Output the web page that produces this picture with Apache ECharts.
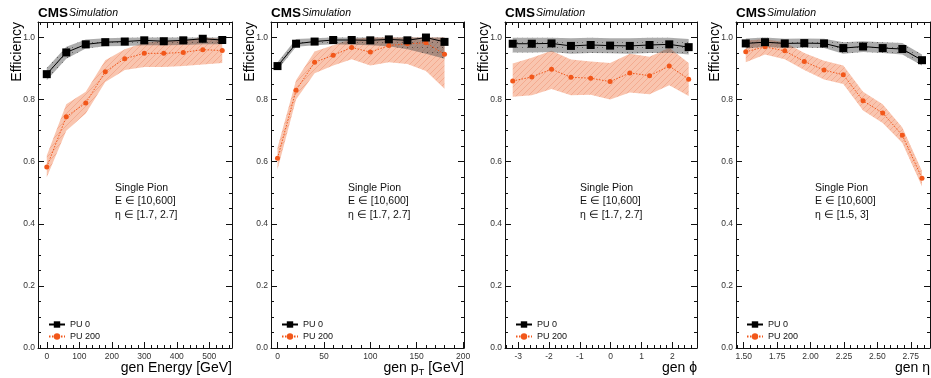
<!DOCTYPE html>
<html><head><meta charset="utf-8">
<script src="https://cdn.jsdelivr.net/npm/echarts@6/dist/echarts.min.js"></script>
<style>html,body{margin:0;padding:0;background:#fff}#c{width:931px;height:378px}</style>
</head><body><div id="c"></div>
<script>
// ---- data: panel 1 (gen Energy) ----
const eX = [0, 60, 120, 180, 240, 300, 360, 420, 480, 540];
const ePU0 = [0.882, 0.952, 0.978, 0.985, 0.987, 0.991, 0.988, 0.991, 0.996, 0.992];
const ePU0Lo = [0.862, 0.932, 0.965, 0.972, 0.973, 0.975, 0.975, 0.976, 0.978, 0.978];
const ePU0Hi = [0.902, 0.970, 0.994, 0.998, 0.999, 1.0, 1.0, 1.0, 1.0, 1.0];
const ePU200 = [0.583, 0.745, 0.789, 0.890, 0.932, 0.949, 0.949, 0.952, 0.961, 0.958];
const ePU200Lo = [0.55, 0.70, 0.755, 0.857, 0.895, 0.905, 0.905, 0.908, 0.913, 0.918];
const ePU200Hi = [0.62, 0.785, 0.825, 0.927, 0.962, 0.983, 0.99, 0.99, 1.0, 0.995];
// ---- panel 2 (gen pT) ----
const pX = [0, 20, 40, 60, 80, 100, 120, 140, 160, 180];
const pPU0 = [0.908, 0.980, 0.987, 0.992, 0.992, 0.991, 0.994, 0.991, 1.0, 0.986];
const pPU0Lo = [0.895, 0.970, 0.975, 0.978, 0.977, 0.975, 0.972, 0.962, 0.948, 0.932];
const pPU0Hi = [0.920, 0.995, 0.998, 1.0, 1.0, 1.0, 1.0, 1.0, 1.0, 1.0];
const pPU200 = [0.611, 0.830, 0.920, 0.943, 0.968, 0.953, 0.974, 0.980, 0.983, 0.946];
const pPU200Lo = [0.575, 0.80, 0.885, 0.91, 0.93, 0.91, 0.92, 0.915, 0.892, 0.835];
const pPU200Hi = [0.645, 0.862, 0.955, 0.975, 0.995, 1.0, 1.0, 1.0, 1.0, 1.0];
// ---- panel 3 (gen phi) ----
const fX = [-3.18, -2.56, -1.92, -1.29, -0.65, -0.02, 0.62, 1.26, 1.90, 2.53];
const fPU0 = [0.980, 0.980, 0.981, 0.973, 0.976, 0.974, 0.973, 0.976, 0.978, 0.969];
const fPU0Lo = [0.952, 0.952, 0.953, 0.948, 0.950, 0.949, 0.948, 0.950, 0.951, 0.945];
const fPU0Hi = [0.999, 0.999, 0.999, 0.998, 0.999, 0.998, 0.998, 0.999, 0.999, 0.995];
const fPU200 = [0.860, 0.873, 0.898, 0.872, 0.869, 0.858, 0.886, 0.877, 0.908, 0.866];
const fPU200Lo = [0.809, 0.814, 0.834, 0.814, 0.816, 0.800, 0.823, 0.817, 0.846, 0.812];
const fPU200Hi = [0.916, 0.935, 0.957, 0.929, 0.923, 0.918, 0.948, 0.938, 0.967, 0.918];
// ---- panel 4 (gen eta) ----
const hX = [1.515, 1.659, 1.807, 1.953, 2.101, 2.245, 2.393, 2.540, 2.687, 2.834];
const hPU0 = [0.981, 0.985, 0.981, 0.982, 0.981, 0.966, 0.971, 0.966, 0.963, 0.927];
const hPU0Lo = [0.965, 0.970, 0.966, 0.967, 0.966, 0.948, 0.953, 0.950, 0.945, 0.910];
const hPU0Hi = [0.997, 1.0, 0.996, 0.997, 0.996, 0.985, 0.988, 0.985, 0.982, 0.945];
const hPU200 = [0.954, 0.970, 0.957, 0.923, 0.895, 0.880, 0.796, 0.757, 0.685, 0.547];
const hPU200Lo = [0.92, 0.945, 0.93, 0.895, 0.865, 0.85, 0.765, 0.725, 0.66, 0.52];
const hPU200Hi = [0.99, 0.995, 0.985, 0.95, 0.925, 0.91, 0.825, 0.785, 0.71, 0.57];
// ---- tick labels ----
const yTicks = [0, 0.2, 0.4, 0.6, 0.8, 1.0];
const eTicks = [0, 100, 200, 300, 400, 500];
const pTicks = [0, 50, 100, 150, 200];
const fTicks = [-3, -2, -1, 0, 1, 2];
const hTicks = [1.5, 1.75, 2.0, 2.25, 2.5, 2.75];
const seriesNames = ['PU 0', 'PU 200'];
const xTitles = ['gen Energy [GeV]', 'gen p_T [GeV]', 'gen ϕ', 'gen η'];
const annot = [
  ['Single Pion', 'E ∈ [10,600]', 'η ∈ [1.7, 2.7]'],
  ['Single Pion', 'E ∈ [10,600]', 'η ∈ [1.7, 2.7]'],
  ['Single Pion', 'E ∈ [10,600]', 'η ∈ [1.7, 2.7]'],
  ['Single Pion', 'E ∈ [10,600]', 'η ∈ [1.5, 3]']
];

// ---- layout / style ----
const FONT = '"Liberation Sans", Arial, Helvetica, sans-serif';
const GTOP = 22, GH = 326;
const panels = [
  {left: 38, width: 194, min: -27, max: 570, ticks: eTicks, step: 20, fmt: v => String(v),
   x: eX, pu0: ePU0, pu0Lo: ePU0Lo, pu0Hi: ePU0Hi, pu200: ePU200, pu200Lo: ePU200Lo, pu200Hi: ePU200Hi, annX: 115},
  {left: 271, width: 193, min: -7, max: 201, ticks: pTicks, step: 10, fmt: v => String(v),
   x: pX, pu0: pPU0, pu0Lo: pPU0Lo, pu0Hi: pPU0Hi, pu200: pPU200, pu200Lo: pPU200Lo, pu200Hi: pPU200Hi, annX: 348},
  {left: 505, width: 192, min: -3.43, max: 2.80, ticks: fTicks, step: 0.2, fmt: v => String(v),
   x: fX, pu0: fPU0, pu0Lo: fPU0Lo, pu0Hi: fPU0Hi, pu200: fPU200, pu200Lo: fPU200Lo, pu200Hi: fPU200Hi, annX: 580},
  {left: 736, width: 194, min: 1.442, max: 2.894, ticks: hTicks, step: 0.05, fmt: v => v.toFixed(2),
   x: hX, pu0: hPU0, pu0Lo: hPU0Lo, pu0Hi: hPU0Hi, pu200: hPU200, pu200Lo: hPU200Lo, pu200Hi: hPU200Hi, annX: 815}
];

function minorTicks(min, max, step) {
  const out = [];
  const start = Math.ceil(min / step - 1e-9);
  for (let k = start; k * step <= max + 1e-9; k++) out.push(+(k * step).toFixed(6));
  return out;
}

function hatchPattern() {
  const c = document.createElement('canvas');
  c.width = 6; c.height = 6;
  const g = c.getContext('2d');
  g.fillStyle = 'rgba(249,192,168,0.92)';
  g.fillRect(0, 0, 6, 6);
  g.strokeStyle = 'rgba(240,150,118,0.55)';
  g.lineWidth = 1;
  g.beginPath();
  g.moveTo(-1, 7); g.lineTo(7, -1);
  g.moveTo(-1, 1); g.lineTo(1, -1);
  g.moveTo(5, 7); g.lineTo(7, 5);
  g.stroke();
  return c;
}
function dotPattern() {
  const c = document.createElement('canvas');
  c.width = 5; c.height = 5;
  const g = c.getContext('2d');
  g.fillStyle = 'rgba(70,70,70,0.45)';
  g.fillRect(0, 0, 5, 5);
  g.fillStyle = 'rgba(20,20,20,0.5)';
  g.fillRect(2, 2, 1, 1);
  return c;
}
const hatch = hatchPattern();
const dots = dotPattern();

function bandSeries(xi, yi, xs, lo, hi, pattern, z, name) {
  return {
    type: 'custom', name, xAxisIndex: xi, yAxisIndex: yi, silent: true, animation: false, z,
    data: xs.map((x, k) => [x, lo[k], hi[k]]),
    encode: {x: 0, y: [1, 2]},
    renderItem: (params, api) => {
      if (params.dataIndex !== 0) return null;
      const pts = [];
      for (let k = 0; k < xs.length; k++) pts.push(api.coord([xs[k], hi[k]]));
      for (let k = xs.length - 1; k >= 0; k--) pts.push(api.coord([xs[k], lo[k]]));
      return {type: 'polygon', shape: {points: pts}, style: {fill: {image: pattern, repeat: 'repeat'}}};
    }
  };
}

const grid = [], xAxis = [], yAxis = [], series = [], legend = [], graphic = [];
const lineC = '#111';
const labelStyle = {fontFamily: FONT, fontSize: 8.5, color: '#333'};
const yMinor = minorTicks(0, 1.05, 0.05);

panels.forEach((p, i) => {
  const gMain = {left: p.left, top: GTOP, width: p.width, height: GH, show: false, outerBoundsMode: 'none', containLabel: false};
  grid.push(Object.assign({}, gMain), Object.assign({}, gMain));
  const gi = 2 * i, gm = 2 * i + 1;
  const xMinor = minorTicks(p.min, p.max, p.step);
  const common = {type: 'value', min: p.min, max: p.max, splitLine: {show: false}};
  const ycommon = {type: 'value', min: 0, max: 1.05, splitLine: {show: false}};
  const axLine = {show: true, onZero: false, lineStyle: {color: lineC, width: 1}};
  const noLine = {show: false, onZero: false};
  xAxis.push(Object.assign({}, common, {gridIndex: gi, position: 'bottom', axisLine: axLine,
    axisTick: {show: true, inside: true, length: 6, customValues: p.ticks, lineStyle: {color: lineC}},
    axisLabel: Object.assign({show: true, customValues: p.ticks, margin: 4, formatter: p.fmt}, labelStyle)}));
  xAxis.push(Object.assign({}, common, {gridIndex: gi, position: 'top', axisLine: axLine,
    axisTick: {show: true, inside: true, length: 6, customValues: p.ticks, lineStyle: {color: lineC}},
    axisLabel: {show: false}}));
  xAxis.push(Object.assign({}, common, {gridIndex: gm, position: 'bottom', axisLine: noLine,
    axisTick: {show: true, inside: true, length: 3, customValues: xMinor, lineStyle: {color: lineC}},
    axisLabel: {show: false}}));
  xAxis.push(Object.assign({}, common, {gridIndex: gm, position: 'top', axisLine: noLine,
    axisTick: {show: true, inside: true, length: 3, customValues: xMinor, lineStyle: {color: lineC}},
    axisLabel: {show: false}}));
  yAxis.push(Object.assign({}, ycommon, {gridIndex: gi, position: 'left', axisLine: axLine,
    axisTick: {show: true, inside: true, length: 6, customValues: yTicks, lineStyle: {color: lineC}},
    axisLabel: Object.assign({show: true, customValues: yTicks, margin: 3, formatter: v => v.toFixed(1)}, labelStyle)}));
  yAxis.push(Object.assign({}, ycommon, {gridIndex: gi, position: 'right', axisLine: axLine,
    axisTick: {show: true, inside: true, length: 6, customValues: yTicks, lineStyle: {color: lineC}},
    axisLabel: {show: false}}));
  yAxis.push(Object.assign({}, ycommon, {gridIndex: gm, position: 'left', axisLine: noLine,
    axisTick: {show: true, inside: true, length: 3, customValues: yMinor, lineStyle: {color: lineC}},
    axisLabel: {show: false}}));
  yAxis.push(Object.assign({}, ycommon, {gridIndex: gm, position: 'right', axisLine: noLine,
    axisTick: {show: true, inside: true, length: 3, customValues: yMinor, lineStyle: {color: lineC}},
    axisLabel: {show: false}}));

  const xi = 4 * i, yi = 4 * i;
  series.push(bandSeries(xi, yi, p.x, p.pu200Lo, p.pu200Hi, hatch, 1, 'band200_' + i));
  series.push(bandSeries(xi, yi, p.x, p.pu0Lo, p.pu0Hi, dots, 2, 'band0_' + i));
  const base = {type: 'line', xAxisIndex: xi, yAxisIndex: yi, animation: false, silent: true};
  series.push(Object.assign({}, base, {name: seriesNames[1], symbol: 'circle', symbolSize: 5,
    itemStyle: {color: '#f2571a'}, lineStyle: {color: '#f2571a', width: 1, type: [1.5, 1.5]},
    data: p.x.map((x, k) => [x, p.pu200[k]]), z: 3}));
  series.push(Object.assign({}, base, {name: seriesNames[0], symbol: 'rect', symbolSize: 8,
    itemStyle: {color: '#000'}, lineStyle: {color: '#000', width: 1},
    data: p.x.map((x, k) => [x, p.pu0[k]]), z: 4}));

  legend.push({left: p.left + 5, top: 315, orient: 'vertical', data: seriesNames, itemWidth: 16, itemHeight: 8,
    itemGap: 3, selectedMode: false, textStyle: {fontFamily: FONT, fontSize: 9, color: '#111'}});

  graphic.push({type: 'text', left: p.left, top: 6, style: {text: 'CMS', font: 'bold 13.5px ' + FONT, fill: '#000'}});
  graphic.push({type: 'text', left: p.left + 31, top: 8, style: {text: 'Simulation', font: 'italic 10.5px ' + FONT, fill: '#000'}});
  graphic.push({type: 'text', x: p.left - 21, y: 22, rotation: Math.PI / 2,
    style: {text: 'Efficiency', font: '14px ' + FONT, fill: '#000', align: 'right', verticalAlign: 'middle'}});
  if (i === 1) {
    graphic.push({type: 'text', x: p.left + p.width, y: 368, style: {
      text: '{a|gen p}{s|T}{a| [GeV]}', align: 'right', verticalAlign: 'middle',
      rich: {a: {font: '14px ' + FONT, fill: '#000'}, s: {font: '9.5px ' + FONT, fill: '#000', padding: [8, 0, 0, 0]}}}});
  } else {
    graphic.push({type: 'text', x: p.left + p.width, y: 368, style: {text: xTitles[i], font: '14px ' + FONT,
      fill: '#000', align: 'right', verticalAlign: 'middle'}});
  }
  graphic.push({type: 'text', x: p.annX, y: 181, z: 10, style: {text: annot[i].join('\n'), font: '10.5px ' + FONT,
    lineHeight: 13.5, fill: '#111', align: 'left', verticalAlign: 'top'}});
});

const chart = echarts.init(document.getElementById('c'), null, {renderer: 'canvas'});
chart.setOption({backgroundColor: '#fff', animation: false, grid, xAxis, yAxis, series, legend, graphic});
</script></body></html>
